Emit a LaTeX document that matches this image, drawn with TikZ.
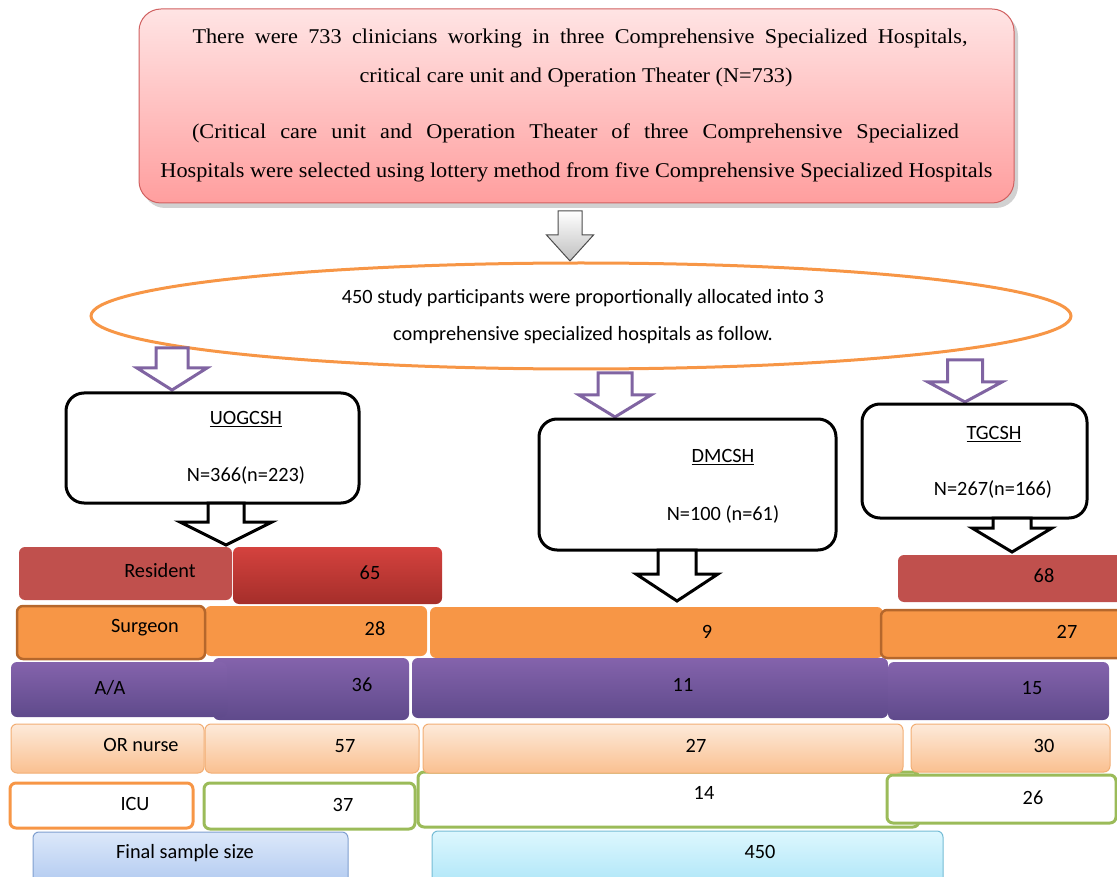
\documentclass[tikz,border=0pt]{standalone}
\usepackage{fontspec}
\setmainfont{Liberation Serif}
\newfontfamily\serifwide[FakeStretch=1.06]{Liberation Serif}
\newfontfamily\carl{Carlito}
\usetikzlibrary{shapes.geometric}
\definecolor{rborder}{HTML}{D06060}
\definecolor{ptop}{HTML}{FFE4E4}
\definecolor{pbot}{HTML}{FF9E9E}
\definecolor{eorange}{HTML}{F79646}
\definecolor{apurple}{HTML}{8064A2}
\definecolor{resred}{HTML}{C0504D}
\definecolor{redtop}{HTML}{D4423E}
\definecolor{redbot}{HTML}{A52E2A}
\definecolor{surbrd}{HTML}{B5672C}
\definecolor{purtop}{HTML}{8463AC}
\definecolor{purbot}{HTML}{5F4A8B}
\definecolor{ortop}{HTML}{FDEADA}
\definecolor{orbot}{HTML}{FAC090}
\definecolor{orbrd}{HTML}{F2AE74}
\definecolor{agreen}{HTML}{9BBB59}
\definecolor{btop}{HTML}{DCE8FA}
\definecolor{bbot}{HTML}{A9C4EE}
\definecolor{bbrd}{HTML}{7F9FCF}
\definecolor{ctop}{HTML}{DDF7FE}
\definecolor{cbot}{HTML}{A6E3F7}
\definecolor{cbrd}{HTML}{75BCD5}
\newcommand\bx[6]{\node[#2, minimum width={(#5-#3)*1pt}, minimum height={(#6-#4)*1pt}] (#1) at ({(#3+#5)/2},{(#4+#6)/2}) {};}
\newcommand\barrow[7]{\draw[#1] ({#2-#6},#3) -- ({#2+#6},#3) -- ({#2+#6},#4) -- ({#2+#7},#4) -- (#2,#5) -- ({#2-#7},#4) -- ({#2-#6},#4) -- cycle;}
\begin{document}
\begin{tikzpicture}[x=1pt,y=-1pt,
  base/.style={rectangle, inner sep=0pt, outer sep=0pt},
  topbox/.style={base, rounded corners=22pt, draw=rborder, line width=1pt, top color=ptop, bottom color=pbot},
  hosp/.style={base, rounded corners=18pt, draw=black, line width=3pt, fill=white},
  cell/.style={base, rounded corners=6pt},
  resflat/.style={cell, fill=resred},
  resgrad/.style={cell, top color=redtop, bottom color=redbot},
  surflat/.style={cell, fill=eorange},
  surbord/.style={cell, fill=eorange, draw=surbrd, line width=2.5pt},
  purp/.style={cell, top color=purtop, bottom color=purbot},
  orn/.style={cell, top color=ortop, bottom color=orbot, draw=orbrd, line width=1pt},
  icubox/.style={cell, fill=white, draw=eorange, line width=3pt},
  grnbox/.style={cell, fill=white, draw=agreen, line width=3pt},
  finbox/.style={cell, top color=btop, bottom color=bbot, draw=bbrd, line width=1pt},
  totbox/.style={cell, top color=ctop, bottom color=cbot, draw=cbrd, line width=1pt},
  serift/.style={inner sep=0pt, font=\serifwide\fontsize{21}{24}\selectfont},
  sanst/.style={inner sep=0pt, font=\carl\fontsize{20.3}{24}\selectfont},
  grayarrow/.style={draw=black!70, line width=1pt, top color=white, bottom color=black!25},
  purarrow/.style={draw=apurple, line width=3pt, fill=white},
  blkarrow/.style={draw=black, line width=3pt, fill=white, line join=miter}
]
\useasboundingbox (0,0) rectangle (1117,877);

% top box with soft shadow
\fill[black!18, rounded corners=22pt] (143,14) rectangle (1018,208);
\bx{top}{topbox}{139}{9}{1014}{203}
\node[serift] (t1) at (580,38) {\makebox[775pt][s]{There were 733 clinicians working in three Comprehensive Specialized Hospitals,}};
\node[serift] (t2) at (576,77) {critical care unit and Operation Theater (N=733)};
\node[serift] (t3) at (575.5,133) {\makebox[767pt][s]{(Critical care unit and Operation Theater of three Comprehensive Specialized}};
\node[serift] (t4) at (576.5,172) {Hospitals were selected using lottery method from five Comprehensive Specialized Hospitals};

% gray arrow
\barrow{grayarrow}{570}{211}{235}{261}{12}{23.5}

% ellipse
\node[ellipse, draw=eorange, line width=3pt, minimum width=980pt, minimum height=106pt, inner sep=0pt] (ell) at (581,316) {};
\node[sanst] (e1) at (583,298) {450 study participants were proportionally allocated into 3};
\node[sanst] (e2) at (583,335) {comprehensive specialized hospitals as follow.};

% purple arrows
\barrow{purarrow}{172}{348}{368}{390}{16}{35}
\barrow{purarrow}{615}{373}{395}{417}{17}{36}
\barrow{purarrow}{965}{360}{382}{402}{17.5}{37}

% hospital boxes
\bx{uog}{hosp}{66}{393}{359}{503}
\node[sanst] (uogn) at (246,419) {\underline{UOGCSH}};
\node[sanst] (uogv) at (246,475) {N=366(n=223)};
\bx{dmc}{hosp}{539}{419}{836}{550}
\node[sanst] (dmcn) at (723,457) {\underline{DMCSH}};
\node[sanst] (dmcv) at (723,514) {N=100 (n=61)};
\bx{tgc}{hosp}{862}{404}{1087}{518}
\node[sanst] (tgcn) at (994,434) {\underline{TGCSH}};
\node[sanst] (tgcv) at (993,489) {N=267(n=166)};

% black arrows
\barrow{blkarrow}{226}{503}{522}{545}{18}{46}
\barrow{blkarrow}{677}{550}{574}{601}{19}{41}
\barrow{blkarrow}{1012}{518}{528}{552}{19}{40}

% row 1 Resident
\bx{res}{resflat}{19}{547}{232}{600}
\bx{r65}{resgrad}{233}{547}{442}{604}
\bx{r68}{resflat}{898}{555}{1130}{602}
\node[sanst] (tres) at (160,571) {Resident};
\node[sanst] (t65) at (370,573) {65};
\node[sanst] (t68) at (1044,576) {68};

% row 2 Surgeon
\bx{r28}{surflat}{205}{606}{427}{656}
\bx{r9}{surflat}{430}{607}{883}{658}
\bx{sur}{surbord}{17}{606}{205}{659}
\bx{r27}{surbord}{881}{610}{1130}{658}
\node[sanst] (tsur) at (145,628) {Surgeon};
\node[sanst] (t28) at (375,629) {28};
\node[sanst] (t9) at (707,632) {9};
\node[sanst] (t27) at (1067,632) {27};

% row 3 A/A
\bx{r36}{purp}{213}{658}{409}{720}
\bx{aa}{purp}{11}{662}{227}{717}
\bx{r11}{purp}{412}{658}{888}{718}
\bx{r15}{purp}{888}{662}{1109}{720}
\node[sanst] (taa) at (110,688) {A/A};
\node[sanst] (t36) at (362,685) {36};
\node[sanst] (t11) at (683,685) {11};
\node[sanst] (t15) at (1032,688) {15};

% row 5 ICU (drawn before row 4)
\bx{icu}{icubox}{10}{783}{193}{828}
\bx{r37}{grnbox}{204}{783}{415}{829}
\bx{r14}{grnbox}{418}{772}{919}{827}
\bx{r26}{grnbox}{887}{775}{1116}{823}
\node[sanst] (ticu) at (135,804) {ICU};
\node[sanst] (t37) at (343,805) {37};
\node[sanst] (t14) at (704,793) {14};
\node[sanst] (t26) at (1033,798) {26};

% row 4 OR nurse
\bx{orn}{orn}{11}{724}{204}{773}
\bx{r57}{orn}{205}{724}{419}{773}
\bx{r27b}{orn}{423}{724}{903}{773}
\bx{r30}{orn}{911}{724}{1110}{772}
\node[sanst] (torn) at (141,745) {OR nurse};
\node[sanst] (t57) at (345,746) {57};
\node[sanst] (t27b) at (696,746) {27};
\node[sanst] (t30) at (1044,746) {30};

% row 6 final
\bx{fin}{finbox}{33}{832}{348}{895}
\bx{tot}{totbox}{432}{831}{943}{895}
\node[sanst] (tfin) at (185,853) {Final sample size};
\node[sanst] (t450) at (760,852) {450};
\end{tikzpicture}
\end{document}
